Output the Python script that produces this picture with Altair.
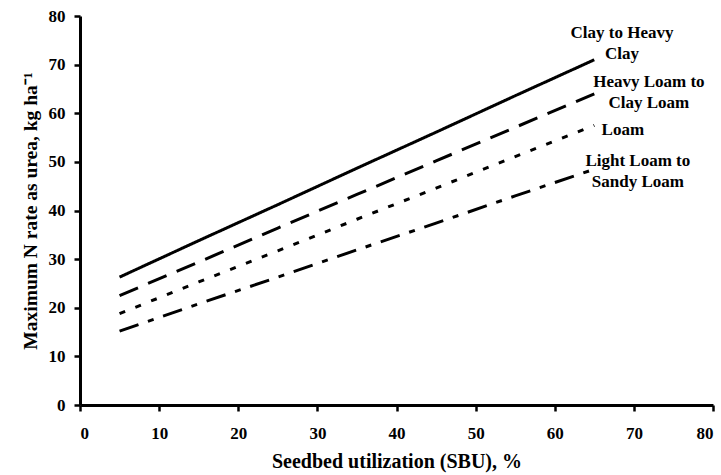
import altair as alt
import pandas as pd

sbu = [5, 15, 25, 35, 45, 55, 65]
clay = [26.3, 33.8, 41.2, 48.7, 56.1, 63.6, 71.0]
heavy_loam = [22.5, 29.4, 36.4, 43.3, 50.2, 57.1, 64.0]
loam = [18.8, 25.3, 31.7, 38.2, 44.6, 51.1, 57.5]
light_loam = [15.2, 20.8, 26.3, 31.9, 37.4, 43.0, 48.5]

series = ["Clay", "HeavyLoam", "Loam", "LightLoam"]
values = [clay, heavy_loam, loam, light_loam]
dashes = [[1, 0], [20, 11], [6, 11], [20, 10, 6, 10]]

label_text = [["Clay to Heavy", "Clay"], ["Heavy Loam to", "Clay Loam"], ["Loam"], ["Light Loam to", "Sandy Loam"]]
label_x = [68.5, 71.9, 68.6, 70.5]
label_y = [76.5, 66.4, 56.6, 50.2]

rows = []
for s, v in zip(series, values):
    for xv, yv in zip(sbu, v):
        rows.append({"series": s, "x": xv, "y": yv})
df = pd.DataFrame(rows)

xs = alt.Scale(domain=[0, 80], nice=False)
ys = alt.Scale(domain=[0, 80], nice=False)

layers = []
for s, d in zip(series, dashes):
    layers.append(
        alt.Chart(df[df.series == s]).mark_line(color="black", strokeWidth=3, strokeDash=d, strokeCap="butt").encode(
            x=alt.X("x:Q", scale=xs, axis=alt.Axis(values=list(range(0, 81, 10)), title="Seedbed utilization (SBU), %",
                                                   labelPadding=14, titlePadding=10, titleFontSize=20)),
            y=alt.Y("y:Q", scale=ys, axis=alt.Axis(values=list(range(0, 81, 10)), title="Maximum N rate as urea, kg ha\u207b\u00b9",
                                                   labelPadding=9, titlePadding=8, titleFontSize=19.5)),
        )
    )

lab_df = pd.DataFrame({"x": label_x, "y": label_y, "t": label_text})
labels = alt.Chart(lab_df).mark_text(
    font="Liberation Serif", fontWeight="bold", fontSize=17, color="black",
    align="center", baseline="middle", lineHeight=21,
).encode(x=alt.X("x:Q", scale=xs), y=alt.Y("y:Q", scale=ys), text="t")

chart = alt.layer(*layers, labels).properties(
    width=633, height=389,
    autosize=alt.AutoSizeParams(type="none"),
    padding={"left": 80, "top": 16, "right": 8, "bottom": 70},
).configure_view(stroke=None).configure_axis(
    grid=False, domainColor="black", domainWidth=3, tickColor="black", tickWidth=2.5, tickSize=6,
    labelFont="Liberation Serif", labelFontWeight="bold", labelFontSize=17, labelColor="black",
    titleFont="Liberation Serif", titleFontWeight="bold", titleColor="black",
)

chart.save("out.html", embed_options={"renderer": "svg", "actions": False})
